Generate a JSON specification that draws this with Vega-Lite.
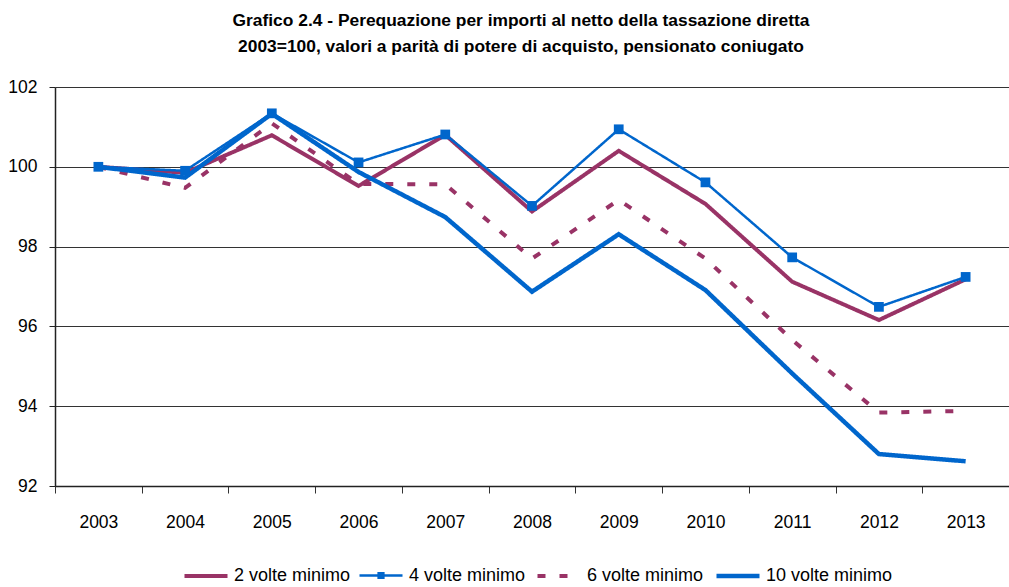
{
  "$schema": "https://vega.github.io/schema/vega-lite/v6.json",
  "autosize": "none",
  "padding": {"left": 55, "top": 87, "right": 0, "bottom": 101},
  "width": 954,
  "height": 399,
  "background": "white",
  "config": {
    "font": "Liberation Sans, Arial, sans-serif",
    "view": {"stroke": null}
  },
  "title": {
    "text": ["Grafico 2.4 - Perequazione per  importi al netto della tassazione diretta", "2003=100, valori a parità di potere di acquisto, pensionato coniugato"],
    "fontSize": 17.4,
    "fontWeight": "bold",
    "color": "black",
    "anchor": "middle",
    "dx": -11,
    "offset": 23,
    "lineHeight": 26
  },
  "data": {
    "values": [
      {"year": "2003", "series": "2 volte minimo", "value": 100.0},
      {"year": "2004", "series": "2 volte minimo", "value": 99.85},
      {"year": "2005", "series": "2 volte minimo", "value": 100.79},
      {"year": "2006", "series": "2 volte minimo", "value": 99.52},
      {"year": "2007", "series": "2 volte minimo", "value": 100.8},
      {"year": "2008", "series": "2 volte minimo", "value": 98.88},
      {"year": "2009", "series": "2 volte minimo", "value": 100.4},
      {"year": "2010", "series": "2 volte minimo", "value": 99.07},
      {"year": "2011", "series": "2 volte minimo", "value": 97.12},
      {"year": "2012", "series": "2 volte minimo", "value": 96.16},
      {"year": "2013", "series": "2 volte minimo", "value": 97.18},
      {"year": "2003", "series": "4 volte minimo", "value": 100.0},
      {"year": "2004", "series": "4 volte minimo", "value": 99.9},
      {"year": "2005", "series": "4 volte minimo", "value": 101.34},
      {"year": "2006", "series": "4 volte minimo", "value": 100.11},
      {"year": "2007", "series": "4 volte minimo", "value": 100.81},
      {"year": "2008", "series": "4 volte minimo", "value": 99.02},
      {"year": "2009", "series": "4 volte minimo", "value": 100.94},
      {"year": "2010", "series": "4 volte minimo", "value": 99.61},
      {"year": "2011", "series": "4 volte minimo", "value": 97.73},
      {"year": "2012", "series": "4 volte minimo", "value": 96.49},
      {"year": "2013", "series": "4 volte minimo", "value": 97.24},
      {"year": "2003", "series": "6 volte minimo", "value": 100.0},
      {"year": "2004", "series": "6 volte minimo", "value": 99.47},
      {"year": "2005", "series": "6 volte minimo", "value": 101.09},
      {"year": "2006", "series": "6 volte minimo", "value": 99.57},
      {"year": "2007", "series": "6 volte minimo", "value": 99.56},
      {"year": "2008", "series": "6 volte minimo", "value": 97.7},
      {"year": "2009", "series": "6 volte minimo", "value": 99.17},
      {"year": "2010", "series": "6 volte minimo", "value": 97.7},
      {"year": "2011", "series": "6 volte minimo", "value": 95.66},
      {"year": "2012", "series": "6 volte minimo", "value": 93.84},
      {"year": "2013", "series": "6 volte minimo", "value": 93.88},
      {"year": "2003", "series": "10 volte minimo", "value": 100.0},
      {"year": "2004", "series": "10 volte minimo", "value": 99.73},
      {"year": "2005", "series": "10 volte minimo", "value": 101.33},
      {"year": "2006", "series": "10 volte minimo", "value": 99.87},
      {"year": "2007", "series": "10 volte minimo", "value": 98.74},
      {"year": "2008", "series": "10 volte minimo", "value": 96.87},
      {"year": "2009", "series": "10 volte minimo", "value": 98.31},
      {"year": "2010", "series": "10 volte minimo", "value": 96.91},
      {"year": "2011", "series": "10 volte minimo", "value": 94.82},
      {"year": "2012", "series": "10 volte minimo", "value": 92.8},
      {"year": "2013", "series": "10 volte minimo", "value": 92.62}
    ]
  },
  "encoding": {
    "x": {
      "field": "year",
      "type": "ordinal",
      "scale": {"type": "band", "paddingInner": 0, "paddingOuter": 0},
      "axis": {
        "title": null,
        "labelAngle": 0,
        "labelFontSize": 17.5,
        "labelColor": "black",
        "labelPadding": 20,
        "tickBand": "extent",
        "tickSize": 7,
        "tickColor": "#333",
        "domainColor": "#222",
        "domainWidth": 1.5,
        "grid": false
      }
    },
    "y": {
      "field": "value",
      "type": "quantitative",
      "scale": {"domain": [92, 102], "nice": false, "zero": false},
      "axis": {
        "title": null,
        "values": [92, 94, 96, 98, 100, 102],
        "labelFontSize": 17.5,
        "labelColor": "black",
        "labelPadding": 12,
        "tickSize": 6,
        "tickColor": "#222",
        "domainColor": "#222",
        "domainWidth": 1.5,
        "grid": true,
        "gridColor": "#333",
        "gridWidth": 1.2
      }
    }
  },
  "layer": [
    {
      "mark": {"type": "line", "strokeCap": "butt", "strokeJoin": "miter"},
      "encoding": {
        "color": {
          "field": "series",
          "type": "nominal",
          "sort": ["2 volte minimo", "4 volte minimo", "6 volte minimo", "10 volte minimo"],
          "scale": {
            "domain": ["2 volte minimo", "4 volte minimo", "6 volte minimo", "10 volte minimo"],
            "range": ["#993366", "#0066CC", "#993366", "#0066CC"]
          },
          "legend": {
            "title": null,
            "orient": "none",
            "legendX": 127,
            "legendY": 465,
            "direction": "horizontal",
            "columns": 4,
            "columnPadding": 3,
            "symbolSize": 1850,
            "symbolType": "stroke",
            "labelFontSize": 18,
            "labelColor": "black",
            "labelOffset": 4,
            "symbolStrokeWidth": 4,
            "encode": {
              "symbols": {
                "update": {
                  "shape": {"signal": "datum.value === '4 volte minimo' ? 'M-1,0H1M-0.11,-0.11H0.11V0.11H-0.11Z' : 'stroke'"},
                  "strokeWidth": {"signal": "datum.value === '4 volte minimo' ? 2.5 : 4.5"},
                  "strokeDash": {"signal": "datum.value === '6 volte minimo' ? [8, 14] : [1, 0]"},
                  "fill": {"signal": "datum.value === '4 volte minimo' ? '#0066CC' : 'transparent'"}
                }
              }
            }
          }
        },
        "strokeDash": {
          "field": "series",
          "type": "nominal",
          "scale": {
            "domain": ["2 volte minimo", "4 volte minimo", "6 volte minimo", "10 volte minimo"],
            "range": [[1, 0], [1, 0], [8, 14], [1, 0]]
          },
          "legend": null
        },
        "strokeWidth": {
          "field": "series",
          "type": "nominal",
          "scale": {
            "type": "ordinal",
            "domain": ["2 volte minimo", "4 volte minimo", "6 volte minimo", "10 volte minimo"],
            "range": [4, 2.5, 4, 4.5]
          },
          "legend": null
        },
        "order": {"field": "year"}
      }
    },
    {
      "transform": [{"filter": "datum.series === '4 volte minimo'"}],
      "mark": {"type": "point", "shape": "square", "filled": true, "size": 95, "color": "#0066CC", "opacity": 1}
    }
  ]
}
